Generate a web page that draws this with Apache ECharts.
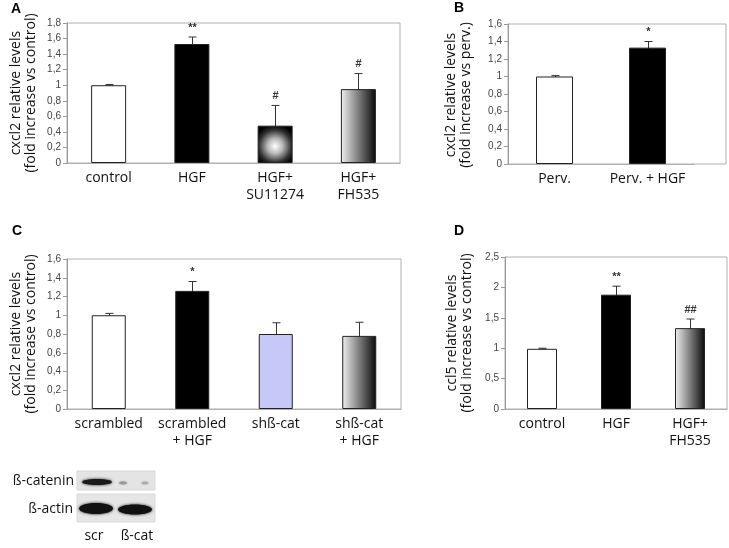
<!DOCTYPE html>
<html><head><meta charset="utf-8">
<script src="https://cdn.jsdelivr.net/npm/echarts@6/dist/echarts.min.js"></script>
<style>html,body{margin:0;padding:0;background:#fff}#c{width:729px;height:548px}</style>
</head><body><div id="c"></div>
<script>
// ---- data ----
const catA = ['control', 'HGF', 'HGF+\nSU11274', 'HGF+\nFH535'];
const valA = [1.0, 1.53, 0.48, 0.95];
const loA  = [0.99, 1.44, 0.225, 0.77];
const hiA  = [1.01, 1.62, 0.74, 1.15];
const sigA = ['', '**', '#', '#'];

const catB = ['Perv.', 'Perv. + HGF'];
const valB = [1.0, 1.33];
const loB  = [0.99, 1.26];
const hiB  = [1.01, 1.40];
const sigB = ['', '*'];

const catC = ['scrambled', 'scrambled\n+ HGF', 'shß-cat', 'shß-cat\n+ HGF'];
const valC = [1.0, 1.26, 0.80, 0.78];
const loC  = [0.98, 1.16, 0.58, 0.57];
const hiC  = [1.02, 1.36, 0.92, 0.925];
const sigC = ['', '*', '', ''];

const catD = ['control', 'HGF', 'HGF+\nFH535'];
const valD = [0.99, 1.88, 1.33];
const loD  = [0.98, 1.75, 1.19];
const hiD  = [1.00, 2.02, 1.48];
const sigD = ['', '**', '##'];

// ---- styles ----
const FONT = "'Open Sans', 'Noto Sans', sans-serif";
const TICKFONT = "'Liberation Sans Narrow', 'Arial Narrow', 'Liberation Sans', Arial, sans-serif";
const FILL = {
  white: '#ffffff',
  black: '#000000',
  lavender: '#c6c8f8',
  radial: {type: 'radial', x: 0.5, y: 0.55, r: 0.62, colorStops: [
    {offset: 0, color: '#ffffff'}, {offset: 0.35, color: '#b8b8b8'},
    {offset: 0.75, color: '#303030'}, {offset: 1, color: '#000000'}]},
  hgrad: {type: 'linear', x: 0, y: 0, x2: 1, y2: 0, colorStops: [
    {offset: 0, color: '#f0f0f0'}, {offset: 1, color: '#0a0a0a'}]}
};
const BORDER = '#b0b0b0';

const panels = [
  {cats: catA, vals: valA, lo: loA, hi: hiA, sig: sigA, fills: ['white', 'black', 'radial', 'hgrad'],
   grid: {left: 67, top: 23, width: 333, height: 140, show: true}, max: 1.8, step: 0.2, barW: 35},
  {cats: catB, vals: valB, lo: loB, hi: hiB, sig: sigB, fills: ['white', 'black'],
   grid: {left: 508, top: 24, width: 186, height: 140, show: false}, max: 1.6, step: 0.2, barW: 37},
  {cats: catC, vals: valC, lo: loC, hi: hiC, sig: sigC, fills: ['white', 'black', 'lavender', 'hgrad'],
   grid: {left: 67, top: 259, width: 334, height: 150, show: true}, max: 1.6, step: 0.2, barW: 34},
  {cats: catD, vals: valD, lo: loD, hi: hiD, sig: sigD, fills: ['white', 'black', 'hgrad'],
   grid: {left: 505, top: 257, width: 222, height: 152, show: true}, max: 2.5, step: 0.5, barW: 30}
];

const grids = [], xAxes = [], yAxes = [], series = [];
const fmt = v => String(Math.round(v * 10) / 10).replace('.', ',');

panels.forEach((p, i) => {
  grids.push(Object.assign({borderColor: BORDER, borderWidth: 1, backgroundColor: 'transparent'}, p.grid));
  xAxes.push({type: 'category', gridIndex: i, data: p.cats,
    axisLine: {lineStyle: {color: BORDER}}, axisTick: {show: false},
    axisLabel: {fontFamily: FONT, fontSize: 14, color: '#111', margin: 7, lineHeight: 17, interval: 0}});
  yAxes.push({type: 'value', gridIndex: i, min: 0, max: p.max, interval: p.step,
    axisLine: {show: true, lineStyle: {color: '#999'}},
    axisTick: {show: true, length: 4, lineStyle: {color: '#999'}},
    splitLine: {show: false},
    axisLabel: {fontFamily: TICKFONT, fontSize: 10, color: '#444', margin: 6, formatter: fmt}});
  series.push({type: 'bar', xAxisIndex: i, yAxisIndex: i, barWidth: p.barW,
    data: p.vals.map((v, k) => ({value: v, itemStyle: {color: FILL[p.fills[k]], borderColor: '#222', borderWidth: 1}})),
    silent: true, animation: false});
  series.push({type: 'custom', xAxisIndex: i, yAxisIndex: i, animation: false, silent: true,
    data: p.lo.map((lo, k) => [k, lo, p.hi[k]]),
    renderItem: (params, api) => {
      const x = api.value(0), lo = api.value(1), hi = api.value(2);
      const pH = api.coord([x, hi]), pL = api.coord([x, lo]);
      const cx = Math.round(pH[0]) + 0.5, w = 4;
      const st = {stroke: '#333', lineWidth: 1};
      return {type: 'group', children: [
        {type: 'line', shape: {x1: cx, y1: pL[1], x2: cx, y2: pH[1]}, style: st},
        {type: 'line', shape: {x1: cx - w, y1: pH[1], x2: cx + w, y2: pH[1]}, style: st},
        {type: 'line', shape: {x1: cx - w, y1: pL[1], x2: cx + w, y2: pL[1]}, style: st},
        {type: 'text', style: {text: p.sig[params.dataIndex], x: cx, y: pH[1] - 4,
          align: 'center', verticalAlign: 'bottom', fontSize: 11, fontWeight: 'bold', fontFamily: TICKFONT, fill: '#333'}}
      ]};
    }});
});

// border frame for panel B (bars sit left of centre in the original)
grids.push({left: 508, top: 24, width: 218, height: 140, show: true, borderColor: BORDER, borderWidth: 1});
xAxes.push({type: 'value', gridIndex: 4, show: false});
yAxes.push({type: 'value', gridIndex: 4, show: false});

function ytitle(x, y, text) {
  return {type: 'text', x: x, y: y, rotation: Math.PI / 2, silent: true,
    style: {text: text, align: 'center', verticalAlign: 'middle', fontSize: 14, lineHeight: 15,
      fontFamily: FONT, fill: '#111'}};
}
function letter(x, y, t) {
  return {type: 'text', x: x, y: y, silent: true,
    style: {text: t, align: 'center', verticalAlign: 'middle', fontSize: 14, fontWeight: 'bold',
      fontFamily: "'Liberation Sans', Arial, sans-serif", fill: '#000'}};
}
function band(cx, cy, rx, ry, c, blur) {
  return {type: 'ellipse', shape: {cx: cx, cy: cy, rx: rx, ry: ry}, silent: true,
    style: {fill: c, shadowBlur: blur, shadowColor: c}};
}
function label(x, y, t, align) {
  return {type: 'text', x: x, y: y, silent: true,
    style: {text: t, align: align, verticalAlign: 'middle', fontSize: 14, fontFamily: FONT, fill: '#111'}};
}

const graphics = [
  letter(16, 9, 'A'), letter(459, 8, 'B'), letter(17, 231, 'C'), letter(459, 231, 'D'),
  ytitle(24, 93, 'cxcl2 relative levels\n(fold increase vs control)'),
  ytitle(459, 95, 'cxcl2 relative levels\n(fold increase vs perv.)'),
  ytitle(24, 334, 'cxcl2 relative levels\n(fold increase vs control)'),
  ytitle(460, 333, 'ccl5 relative levels\n(fold increase vs control)'),
  // western blot
  {type: 'rect', shape: {x: 77, y: 471, width: 78, height: 19}, style: {fill: '#e4e4e4', stroke: '#d8d8d8'}, silent: true},
  {type: 'rect', shape: {x: 77, y: 494, width: 78, height: 28}, style: {fill: '#e6e6e6', stroke: '#d8d8d8'}, silent: true},
  band(97, 482, 15, 3, '#1a1a1a', 3),
  band(123, 483, 4, 1.4, '#999999', 2),
  band(145, 483, 3.5, 1.3, '#aaaaaa', 2),
  band(96, 508.5, 17, 5.5, '#111111', 3),
  band(135, 509.5, 17, 5, '#111111', 3),
  label(74, 481, 'ß-catenin', 'right'),
  label(73, 509, 'ß-actin', 'right'),
  label(94, 536, 'scr', 'center'),
  label(137, 536, 'ß-cat', 'center')
];

const chart = echarts.init(document.getElementById('c'));
chart.setOption({
  animation: false,
  backgroundColor: '#fff',
  grid: grids, xAxis: xAxes, yAxis: yAxes, series: series,
  graphic: graphics
});
</script></body></html>
